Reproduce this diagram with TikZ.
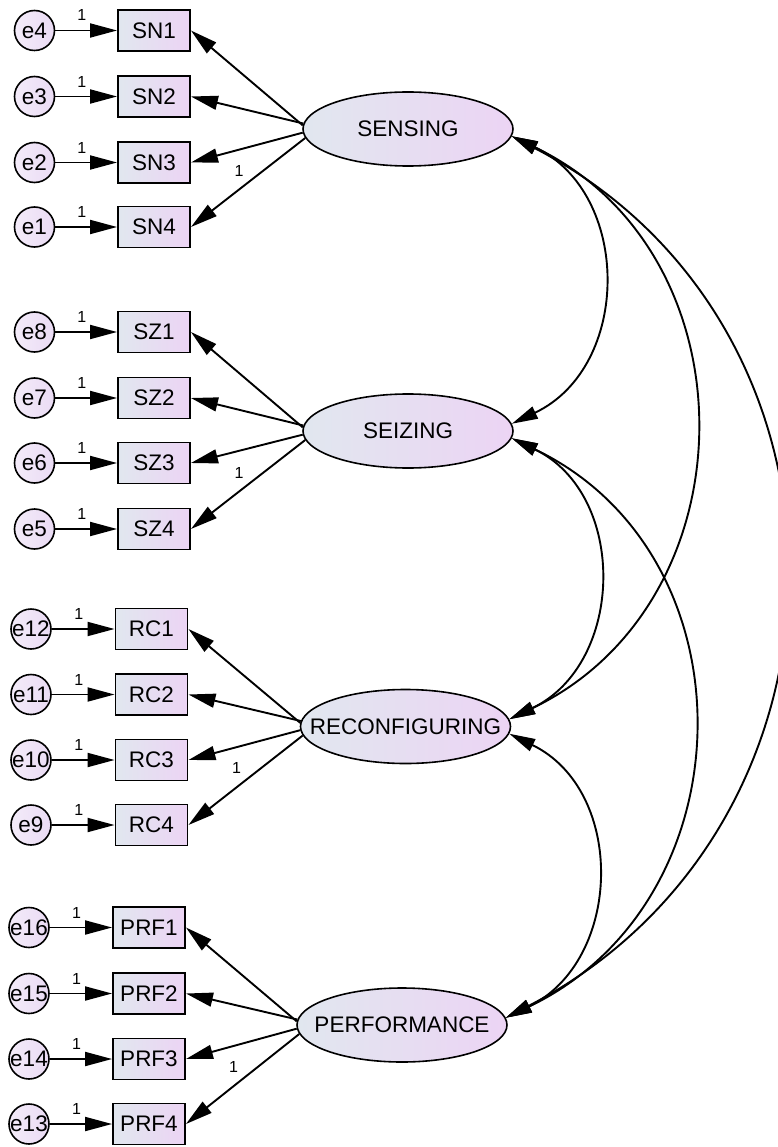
\documentclass[tikz,border=0pt]{standalone}
\usepackage{fontspec}
\setmainfont{Liberation Sans}
\usetikzlibrary{arrows.meta,shapes.geometric}
\definecolor{lc}{RGB}{225,231,239}
\definecolor{rc}{RGB}{236,212,244}
\definecolor{ec}{RGB}{234,219,244}
\begin{document}
\begin{tikzpicture}[x=1pt,y=-1pt,
 lbl/.style={font=\fontsize{22.5}{26}\selectfont, inner sep=0pt},
 ind/.style={lbl, draw, line width=1.9pt, rectangle, minimum width=72pt, minimum height=41pt, inner sep=0pt, left color=lc, right color=rc},
 err/.style={draw, line width=1.6pt, circle, minimum size=40pt, inner sep=0pt, left color=ec!55!white, right color=ec, label={[lbl]center:#1}},
 lat/.style={draw, ellipse, line width=1.6pt, minimum width=210pt, minimum height=74pt, inner sep=0pt, left color=lc, right color=rc, label={[lbl]center:#1}},
 arr/.style={line width=1.9pt, -{Triangle[length=27pt,width=14pt]}},
 cov/.style={line width=1.9pt, {Triangle[length=26pt,width=13pt]}-{Triangle[length=26pt,width=13pt]}},
 one/.style={font=\fontsize{16}{18}\selectfont, inner sep=0pt}
]
\useasboundingbox (0,0) rectangle (778,1147);

% latent variables
\node[lat=SENSING] (S) at (408,129) {};
\node[lat=SEIZING] (Z) at (408,431) {};
\node[lat=RECONFIGURING] (R) at (405.5,726.5) {};
\node[lat=PERFORMANCE] (P) at (402,1025) {};

% SENSING indicators
\node[ind] (SN1) at (154,30.5) {SN1};
\node[ind] (SN2) at (154,96.5) {SN2};
\node[ind] (SN3) at (154,162.5) {SN3};
\node[ind] (SN4) at (154,227) {SN4};
\node[err=e4] (e4) at (34.5,30.5) {};
\node[err=e3] (e3) at (34.5,96.5) {};
\node[err=e2] (e2) at (34.5,162.5) {};
\node[err=e1] (e1) at (34.5,227) {};

% SEIZING indicators
\node[ind] (SZ1) at (154,332) {SZ1};
\node[ind] (SZ2) at (154,398) {SZ2};
\node[ind] (SZ3) at (154,463) {SZ3};
\node[ind] (SZ4) at (154,529) {SZ4};
\node[err=e8] (e8) at (34.5,332) {};
\node[err=e7] (e7) at (34.5,398) {};
\node[err=e6] (e6) at (34.5,463) {};
\node[err=e5] (e5) at (34.5,529) {};

% RECONFIGURING indicators
\node[ind] (RC1) at (151.5,629) {RC1};
\node[ind] (RC2) at (151.5,694.5) {RC2};
\node[ind] (RC3) at (151.5,760) {RC3};
\node[ind] (RC4) at (151.5,825) {RC4};
\node[err=e12] (e12) at (31,629) {};
\node[err=e11] (e11) at (31,694.5) {};
\node[err=e10] (e10) at (31,760) {};
\node[err=e9] (e9) at (31,825) {};

% PERFORMANCE indicators
\node[ind] (PRF1) at (149,927.5) {PRF1};
\node[ind] (PRF2) at (149,993.5) {PRF2};
\node[ind] (PRF3) at (149,1059) {PRF3};
\node[ind] (PRF4) at (149,1124) {PRF4};
\node[err=e16] (e16) at (29,927.5) {};
\node[err=e15] (e15) at (29,993.5) {};
\node[err=e14] (e14) at (29,1059) {};
\node[err=e13] (e13) at (29,1124) {};

% error arrows
\foreach \e/\b in {e4/SN1,e3/SN2,e2/SN3,e1/SN4,e8/SZ1,e7/SZ2,e6/SZ3,e5/SZ4,e12/RC1,e11/RC2,e10/RC3,e9/RC4,e16/PRF1,e15/PRF2,e14/PRF3,e13/PRF4}
  \draw[arr] (\e) -- (\b) node[one, pos=0.43, yshift=15pt] {1};

% loadings
\foreach \l/\a/\b/\c/\d in {S/SN1/SN2/SN3/SN4, Z/SZ1/SZ2/SZ3/SZ4, R/RC1/RC2/RC3/RC4, P/PRF1/PRF2/PRF3/PRF4}{
  \draw[arr] (\l.178) -- (\a.east);
  \draw[arr] (\l.177.5) -- (\b.east);
  \draw[arr] (\l.182) -- (\c.east);
  \draw[arr] (\l.185) -- (\d.east) node[one, pos=0.58, yshift=19pt] {1};
}

% covariances
\draw[cov] (S.-4) .. controls +(120,57) and +(120,-57) .. (Z.4);
\draw[cov] (S.-4) .. controls +(244,117) and +(244,-117) .. (R.4);
\draw[cov] (S.-4) .. controls +(366,190) and +(366,-190) .. (P.4);
\draw[cov] (Z.-4) .. controls +(116,56) and +(116,-56) .. (R.4);
\draw[cov] (Z.-4) .. controls +(244,117) and +(244,-117) .. (P.4);
\draw[cov] (R.-4) .. controls +(117,57) and +(117,-57) .. (P.4);
\end{tikzpicture}
\end{document}
